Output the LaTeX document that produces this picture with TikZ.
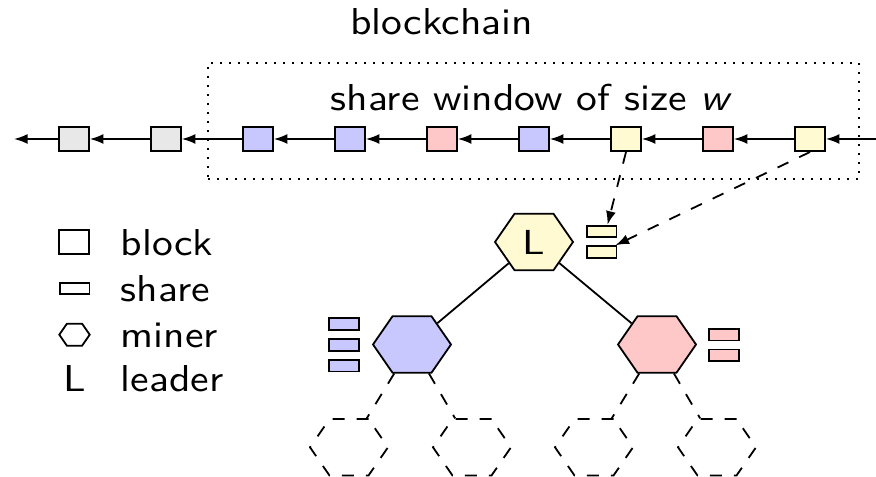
\documentclass[tikz,border=0pt]{standalone}
\usepackage{graphicx}
\usetikzlibrary{arrows.meta,shapes.geometric,calc}
\definecolor{cgray}{RGB}{232,232,232}
\definecolor{cblue}{RGB}{200,200,255}
\definecolor{cred}{RGB}{255,200,200}
\definecolor{cyel}{RGB}{255,250,210}
\newcommand\txt[1]{\scalebox{1}[0.9]{#1}}
\begin{document}
\begin{tikzpicture}[x=0.25pt,y=-0.25pt, line width=0.45pt,
  font=\fontsize{10.4}{12}\selectfont\sffamily,
  blk/.style={draw, rectangle, inner sep=0pt, minimum width=7.45pt, minimum height=6.05pt},
  shr/.style={draw, rectangle, inner sep=0pt, minimum width=7.45pt, minimum height=2.9pt},
  hexa/.style={draw, regular polygon, regular polygon sides=6, inner sep=0pt, minimum size=#1, transform shape},
  lbl/.style={inner sep=0pt, anchor=base},
  lgt/.style={inner sep=0pt, anchor=base west},
  arr/.style={-{Latex[length=3.4pt,width=2.5pt]}},
  kid/.style={hexa=19.5pt, dashed},
]
\useasboundingbox (0,0) rectangle (876,477);

% title and window
\node[lbl] (title) at (441.7,34.3) {\txt{blockchain}};
\node[draw, dash pattern=on 0.45pt off 1.8pt, rectangle, inner sep=0pt,
      minimum width=162.75pt, minimum height=29pt] (win) at (533.5,121) {};
\node[lbl] (wtext) at (531.4,110.7) {\txt{share window of size \textit{w}}};

% chain
\node[blk, fill=cgray] (b0) at (74,139) {};
\node[blk, fill=cgray] (b1) at (166,139) {};
\node[blk, fill=cblue] (b2) at (258,139) {};
\node[blk, fill=cblue] (b3) at (350,139) {};
\node[blk, fill=cred]  (b4) at (442,139) {};
\node[blk, fill=cblue] (b5) at (534,139) {};
\node[blk, fill=cyel]  (b6) at (626,139) {};
\node[blk, fill=cred]  (b7) at (718,139) {};
\node[blk, fill=cyel]  (b8) at (810,139) {};
\coordinate (cl) at (14,139);
\coordinate (cr) at (880,139);
\draw[arr] (b0) -- (cl);
\foreach \a/\b in {b1/b0,b2/b1,b3/b2,b4/b3,b5/b4,b6/b5,b7/b6,b8/b7}
  \draw[arr] (\a) -- (\b);
\draw[arr] (cr) -- (b8);

% miners
\begin{scope}[shift={(534,242)},yscale=0.835]
  \node[hexa=19.5pt, fill=cyel] (L) at (0,0) {L};
\end{scope}
\begin{scope}[shift={(412,344.5)},yscale=0.835]
  \node[hexa=19.5pt, fill=cblue] (B) at (0,0) {};
\end{scope}
\begin{scope}[shift={(657,344.5)},yscale=0.835]
  \node[hexa=19.5pt, fill=cred] (R) at (0,0) {};
\end{scope}
\begin{scope}[shift={(349,447.3)},yscale=0.835]
  \node[kid] (c1) at (0,0) {};
\end{scope}
\begin{scope}[shift={(472,447.3)},yscale=0.835]
  \node[kid] (c2) at (0,0) {};
\end{scope}
\begin{scope}[shift={(594,447.3)},yscale=0.835]
  \node[kid] (c3) at (0,0) {};
\end{scope}
\begin{scope}[shift={(717,447.3)},yscale=0.835]
  \node[kid] (c4) at (0,0) {};
\end{scope}

\draw (L) -- (B);
\draw (L) -- (R);
\draw[dashed] (B) -- (c1);
\draw[dashed] (B) -- (c2);
\draw[dashed] (R) -- (c3);
\draw[dashed] (R) -- (c4);

% shares
\node[shr, fill=cyel] (s1) at (601.5,231.5) {};
\node[shr, fill=cyel] (s2) at (601.5,252) {};
\node[shr, fill=cblue] (bs1) at (344,324) {};
\node[shr, fill=cblue] (bs2) at (344,345) {};
\node[shr, fill=cblue] (bs3) at (344,365.7) {};
\node[shr, fill=cred] (rs1) at (724,334.7) {};
\node[shr, fill=cred] (rs2) at (724,355.3) {};

\draw[arr, dashed] (b6.south) -- ($(s1.north)+(6,0)$);
\draw[arr, dashed] (b8.south) -- (s2);

% legend
\node[blk] (lb) at (74,242) {};
\node[shr] (ls) at (74.5,288.5) {};
\begin{scope}[shift={(74.5,334.7)},yscale=0.835]
  \node[hexa=7.6pt] (lh) at (0,0) {};
\end{scope}
\node[lbl] (lL) at (74.5,391.7) {\txt{L}};
\node[lgt] (tb) at (120,255.3) {\txt{block}};
\node[lgt] (ts) at (120,301.5) {\txt{share}};
\node[lgt] (tm) at (120,348) {\txt{miner}};
\node[lgt] (tl) at (120,391.7) {\txt{leader}};
\end{tikzpicture}
\end{document}
